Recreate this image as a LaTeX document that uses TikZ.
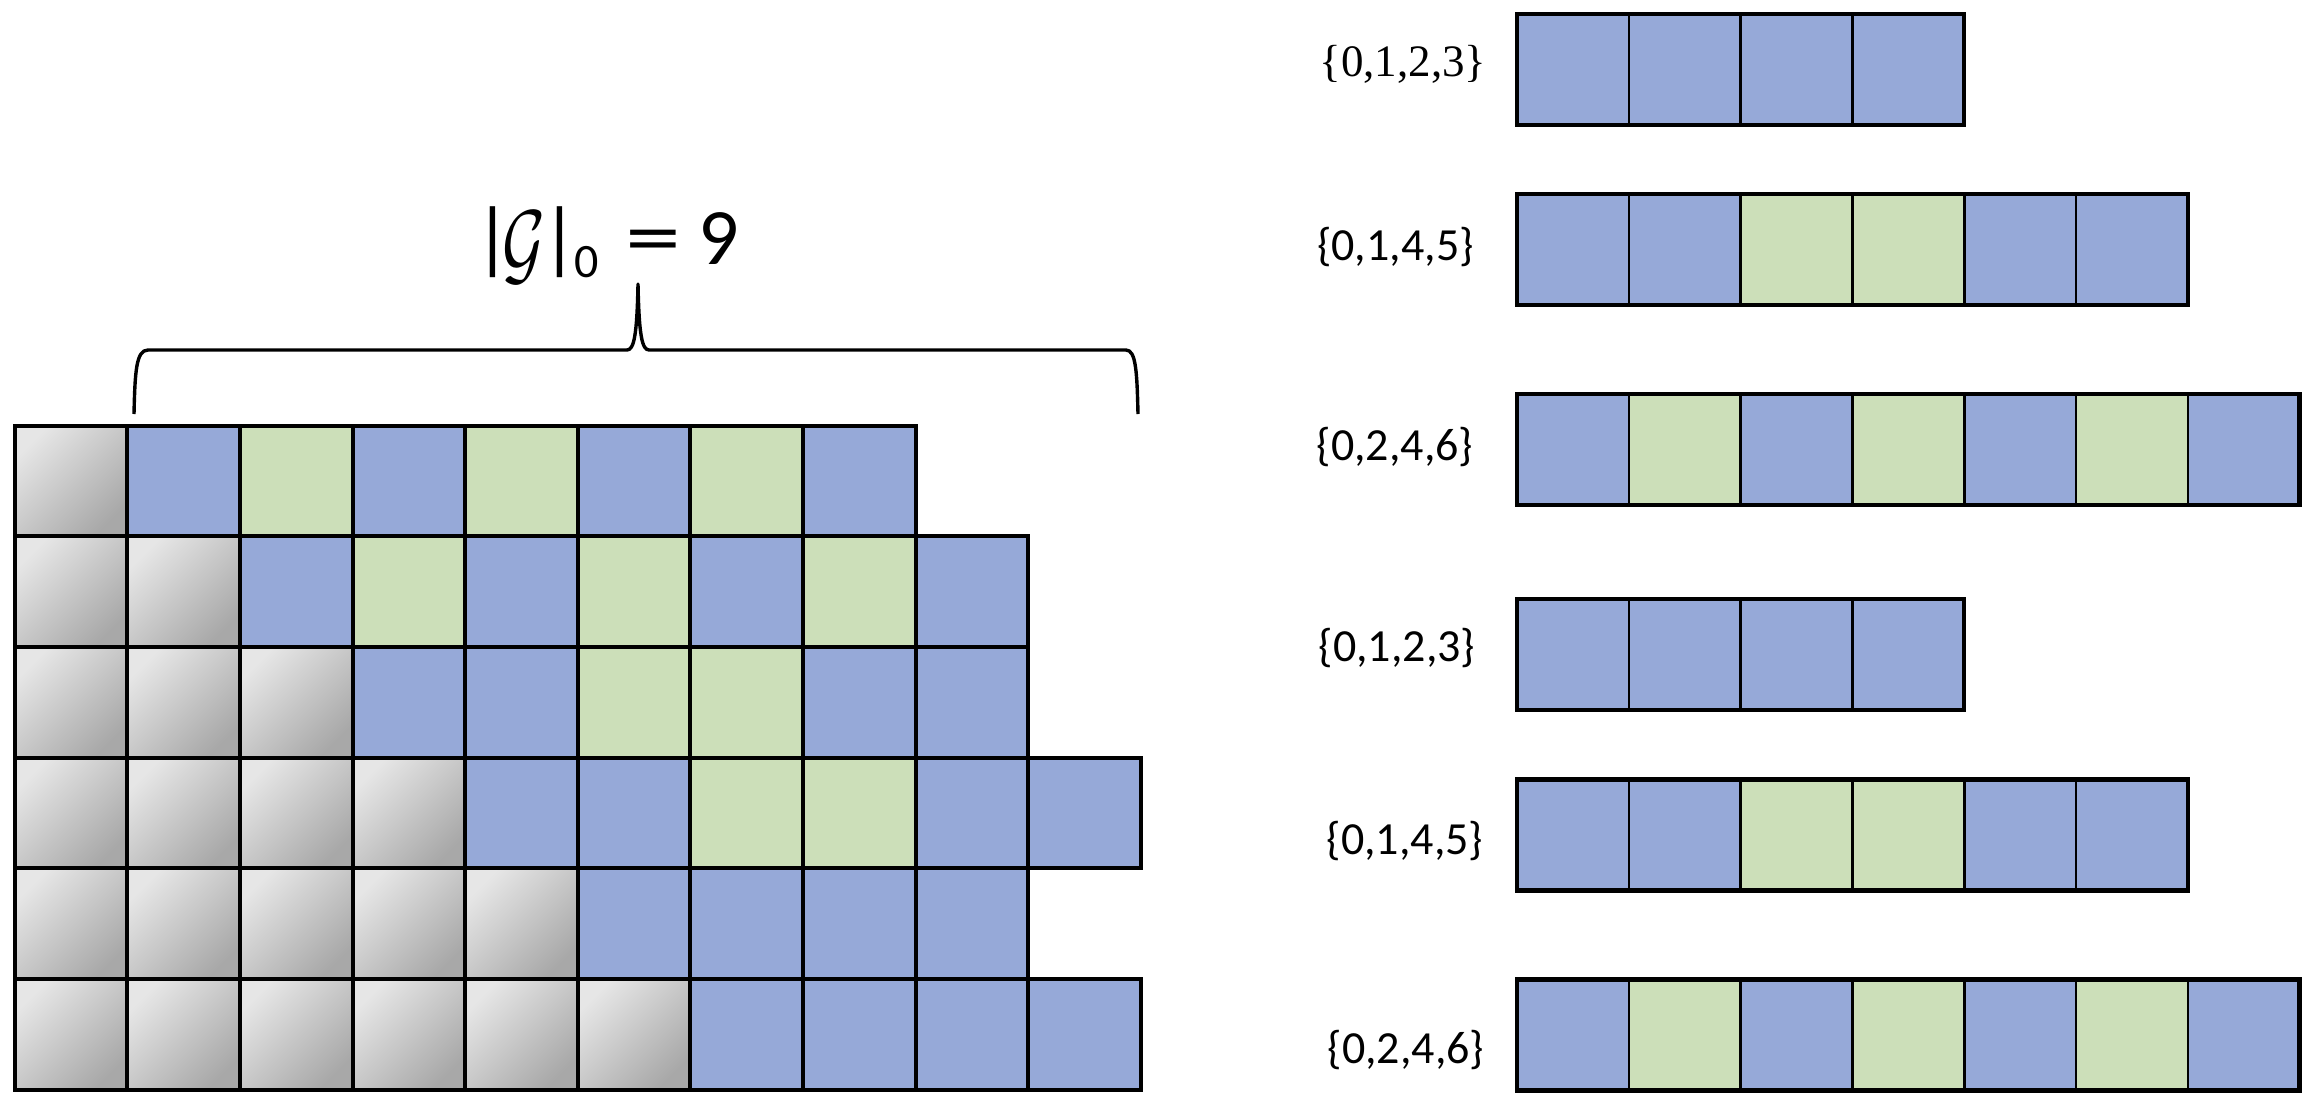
\RequirePackage{fix-cm}
\documentclass[tikz,border=0pt]{standalone}
\usepackage{fontspec}
\usepackage{graphicx}
\newfontfamily\calibri{Carlito}
\newfontfamily\cambria{Liberation Serif}
\definecolor{cellb}{RGB}{150,169,216}
\definecolor{cellg}{RGB}{204,223,185}
\definecolor{graylt}{RGB}{230,230,230}
\definecolor{graydk}{RGB}{168,168,168}
\tikzset{
  gcell/.style={draw=black, line width=4pt, minimum width=112.6pt, minimum height=110.7pt, inner sep=0pt, outer sep=0pt},
  graycell/.style={gcell, top color=graylt, bottom color=graydk, shading angle=45},
  bcell/.style={draw=black, line width=2.6pt, minimum width=111.8pt, minimum height=111pt, inner sep=0pt, outer sep=0pt},
  barframe/.style={draw=black, line width=4.5pt},
  setlabel/.style={anchor=base, inner sep=0pt, font=\calibri\fontsize{46}{52}\selectfont},
  bracepath/.style={draw=black, line width=3.4pt, line join=round}
}
\newcommand\setbar[3]{%
  \foreach \c [count=\j from 0] in {#3} {
    \node[bcell, fill=cell\c] (R#1-\j) at ({1517+111.8*(\j+0.5)},{#2+55.5}) {};
  }
}
\begin{document}
\begin{tikzpicture}[x=1pt,y=-1pt]
\useasboundingbox (0,0) rectangle (2314,1100);
% left grid
\foreach \row [count=\r from 0] in {{b,g,b,g,b,g,b},{b,g,b,g,b,g,b},{b,b,g,g,b,b},{b,b,g,g,b,b},{b,b,b,b},{b,b,b,b}} {
  \foreach \k in {0,...,\r} {
    \node[graycell] (L-\r-\k) at ({14.8+112.6*(\k+0.5)},{425.5+110.7*(\r+0.5)}) {};
  }
  \foreach \c [count=\j from 1] in \row {
    \pgfmathtruncatemacro\col{\r+\j}
    \node[gcell, fill=cell\c] (L-\r-\col) at ({14.8+112.6*(\col+0.5)},{425.5+110.7*(\r+0.5)}) {};
  }
}
% brace
\draw[bracepath] (134,414) .. controls (135,372) and (136,350) .. (148,350) -- (627,350)
  .. controls (634,350) and (637,335) .. (638,284)
  .. controls (639,335) and (642,350) .. (649,350) -- (1126,350)
  .. controls (1136,350) and (1137,372) .. (1138,414);
\node[anchor=base west, inner sep=0pt] (G) at (487,264)
  {\calibri\fontsize{80}{96}\selectfont
   \makebox[11pt]{|}%
   \makebox[52pt]{\raisebox{-10pt}{\scalebox{0.82}[1.15]{$\mathcal{G}$}}}%
   \makebox[19pt]{|}%
   \makebox[34pt]{\raisebox{-13pt}{\fontsize{48}{50}\selectfont 0}}%
   \makebox[101pt]{\scalebox{1.4}[1]{=}}%
   \makebox[30pt]{9}};
% right bars
\setbar{1}{14}{b,b,b,b}
\setbar{2}{194}{b,b,g,g,b,b}
\setbar{3}{394}{b,g,b,g,b,g,b}
\setbar{4}{599}{b,b,b,b}
\setbar{5}{779.5}{b,b,g,g,b,b}
\setbar{6}{979.5}{b,g,b,g,b,g,b}
\draw[barframe] (R1-0.north west) rectangle (R1-3.south east);
\draw[barframe] (R2-0.north west) rectangle (R2-5.south east);
\draw[barframe] (R3-0.north west) rectangle (R3-6.south east);
\draw[barframe] (R4-0.north west) rectangle (R4-3.south east);
\draw[barframe] (R5-0.north west) rectangle (R5-5.south east);
\draw[barframe] (R6-0.north west) rectangle (R6-6.south east);
% labels
\node[setlabel] (S1) at (1403,76.7) {\cambria\fontsize{45}{50}\selectfont\{0,1,2,3\}};
\node[setlabel] (S2) at (1395.5,260.7) {\{0,1,4,5\}};
\node[setlabel] (S3) at (1395,460.7) {\{0,2,4,6\}};
\node[setlabel] (S4) at (1397,661.7) {\{0,1,2,3\}};
\node[setlabel] (S5) at (1405,854.3) {\{0,1,4,5\}};
\node[setlabel] (S6) at (1406,1063.3) {\{0,2,4,6\}};
\end{tikzpicture}
\end{document}
